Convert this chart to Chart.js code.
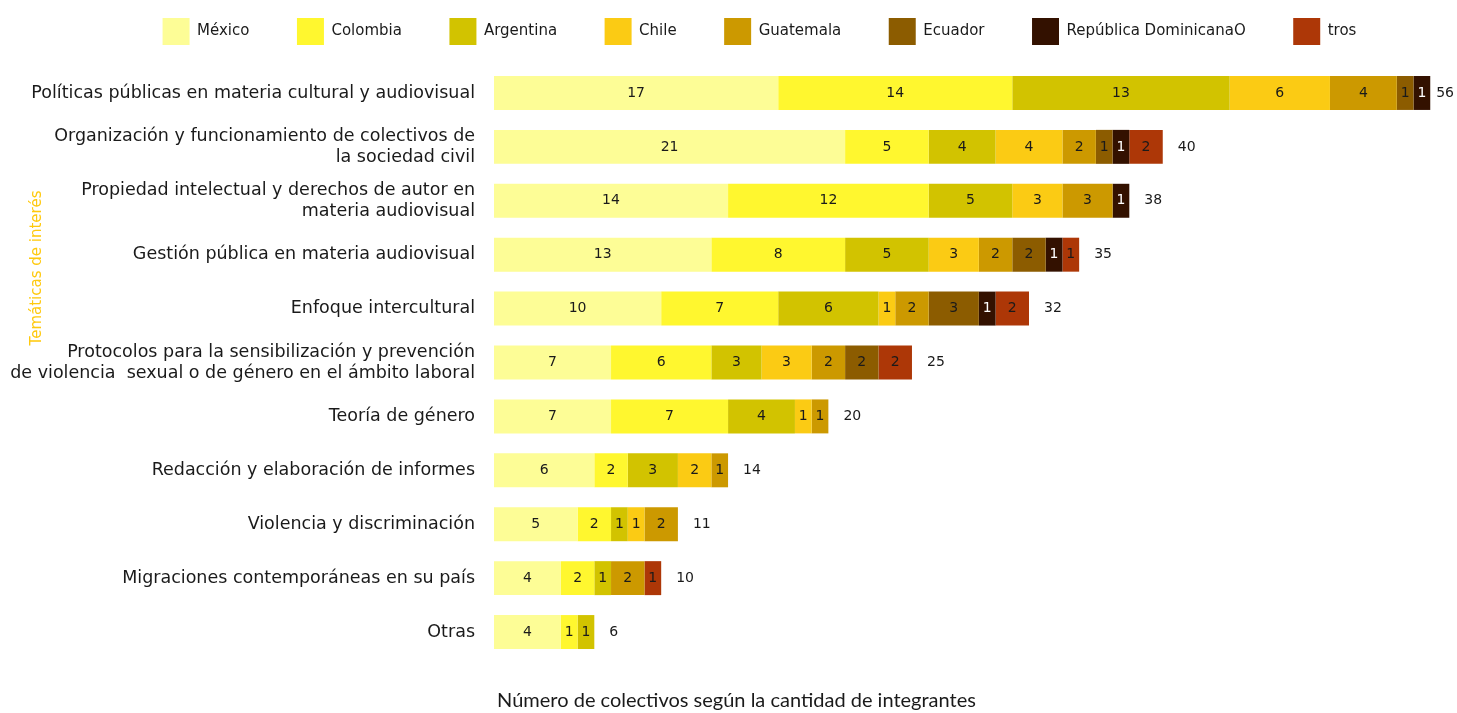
<!DOCTYPE html>
<html>
<head>
<meta charset="utf-8">
<script src="https://cdn.jsdelivr.net/npm/chart.js@4/dist/chart.umd.min.js"></script>
<style>
  html, body { margin: 0; padding: 0; background: #fff; }
  #wrap { width: 1457px; height: 713px; position: relative; }
</style>
</head>
<body>
<div id="wrap"><canvas id="chart"></canvas></div>
<script>
/*
  Temáticas de interés por país: stacked horizontal bars with in-bar counts and row totals.
*/
const categories = [
  "Políticas públicas en materia cultural y audiovisual",
  ["Organización y funcionamiento de colectivos de", "la sociedad civil"],
  ["Propiedad intelectual y derechos de autor en", "materia audiovisual"],
  "Gestión pública en materia audiovisual",
  "Enfoque intercultural",
  ["Protocolos para la sensibilización y prevención", "de violencia  sexual o de género en el ámbito laboral"],
  "Teoría de género",
  "Redacción y elaboración de informes",
  "Violencia y discriminación",
  "Migraciones contemporáneas en su país",
  "Otras"
];

const seriesNames = ["México", "Colombia", "Argentina", "Chile", "Guatemala", "Ecuador", "República DominicanaO", "tros"];
const seriesColors = ["#FDFD96", "#FFF72F", "#D2C300", "#FBCB14", "#CC9900", "#8C5C00", "#331100", "#AD3707"];

const mexico    = [17, 21, 14, 13, 10, 7, 7, 6, 5, 4, 4];
const colombia  = [14, 5, 12, 8, 7, 6, 7, 2, 2, 2, 1];
const argentina = [13, 4, 5, 5, 6, 3, 4, 3, 1, 1, 1];
const chile     = [6, 4, 3, 3, 1, 3, 1, 2, 1, null, null];
const guatemala = [4, 2, 3, 2, 2, 2, 1, 1, 2, 2, null];
const ecuador   = [1, 1, null, 2, 3, 2, null, null, null, null, null];
const repDom    = [1, 1, 1, 1, 1, null, null, null, null, null, null];
const otros     = [null, 2, null, 1, 2, 2, null, null, null, 1, null];

const seriesValues = [mexico, colombia, argentina, chile, guatemala, ecuador, repDom, otros];

const yTitle = "Temáticas de interés";
const xTitle = "Número de colectivos según la cantidad de integrantes";

const FONT = "'DejaVu Sans', sans-serif";

// legend sits higher than Chart.js would put it, with a taller gap below,
// and legend / bottom title are nudged right a bit like in the original
const legendGap = {
  id: "legendGap",
  beforeUpdate(chart) {
    const lg = chart.legend;
    if (!lg || lg._gapPatched) return;
    const fit = lg.fit.bind(lg);
    lg.fit = () => { fit(); lg.height = 95.5; };
    lg._gapPatched = true;
  },
  afterLayout(chart) {
    chart.legend.left += 31;
    chart.legend.right += 31;
    chart.titleBlock.left += 8;
    chart.titleBlock.right += 8;
  }
};

const barLabels = {
  id: "barLabels",
  afterDatasetsDraw(chart) {
    const ctx = chart.ctx;
    ctx.save();
    ctx.font = "14px " + FONT;
    ctx.textBaseline = "middle";
    ctx.textAlign = "center";
    chart.data.datasets.forEach((ds, di) => {
      const meta = chart.getDatasetMeta(di);
      meta.data.forEach((bar, i) => {
        const v = ds.data[i];
        if (!v) return;
        ctx.fillStyle = di === 6 ? "#ffffff" : "#1a1a1a";
        ctx.fillText(String(v), (bar.x + bar.base) / 2, bar.y);
      });
    });
    // row totals after the end of each bar
    const xScale = chart.scales.x;
    ctx.textAlign = "left";
    ctx.fillStyle = "#1a1a1a";
    categories.forEach((c, i) => {
      const total = seriesValues.reduce((s, arr) => s + (arr[i] || 0), 0);
      const row = chart.getDatasetMeta(0).data[i];
      const txt = String(total);
      let x = xScale.getPixelForValue(total) + 15;
      x = Math.min(x, chart.width - ctx.measureText(txt).width - 3);
      ctx.fillText(txt, x, row.y);
    });
    // rotated y axis title
    ctx.translate(37, 268);
    ctx.rotate(-Math.PI / 2);
    ctx.textAlign = "center";
    ctx.fillStyle = "#FFC90E";
    ctx.font = "15px " + FONT;
    ctx.fillText(yTitle, 0, 0);
    ctx.restore();
  }
};

new Chart(document.getElementById("chart"), {
  type: "bar",
  data: {
    labels: categories,
    datasets: seriesNames.map((name, i) => ({
      label: name,
      data: seriesValues[i],
      backgroundColor: seriesColors[i],
      borderWidth: 0,
      barPercentage: 0.63,
      categoryPercentage: 1,
    })),
  },
  options: {
    indexAxis: "y",
    responsive: true,
    maintainAspectRatio: false,
    animation: false,
    layout: { padding: { top: -29.5, right: 0, left: 0, bottom: 0 } },
    scales: {
      x: {
        stacked: true,
        display: false,
        min: 0,
        max: 57.6,
      },
      y: {
        stacked: true,
        grid: { display: false, drawTicks: false },
        border: { display: false },
        ticks: { color: "#1a1a1a", font: { family: FONT, size: 17.5 }, padding: 19, autoSkip: false },
        afterFit: (scale) => { scale.width = 494; },
      },
    },
    plugins: {
      legend: {
        position: "top",
        labels: {
          boxWidth: 27,
          boxHeight: 27,
          padding: 47.5,
          color: "#1a1a1a",
          font: { family: FONT, size: 15 },
        },
      },
      title: {
        display: true,
        position: "bottom",
        text: xTitle,
        color: "#1a1a1a",
        font: { family: "Lato, sans-serif", size: 20, weight: "normal" },
        padding: { top: 30, bottom: 0 },
      },
      tooltip: { enabled: false },
    },
  },
  plugins: [legendGap, barLabels],
});
</script>
</body>
</html>
